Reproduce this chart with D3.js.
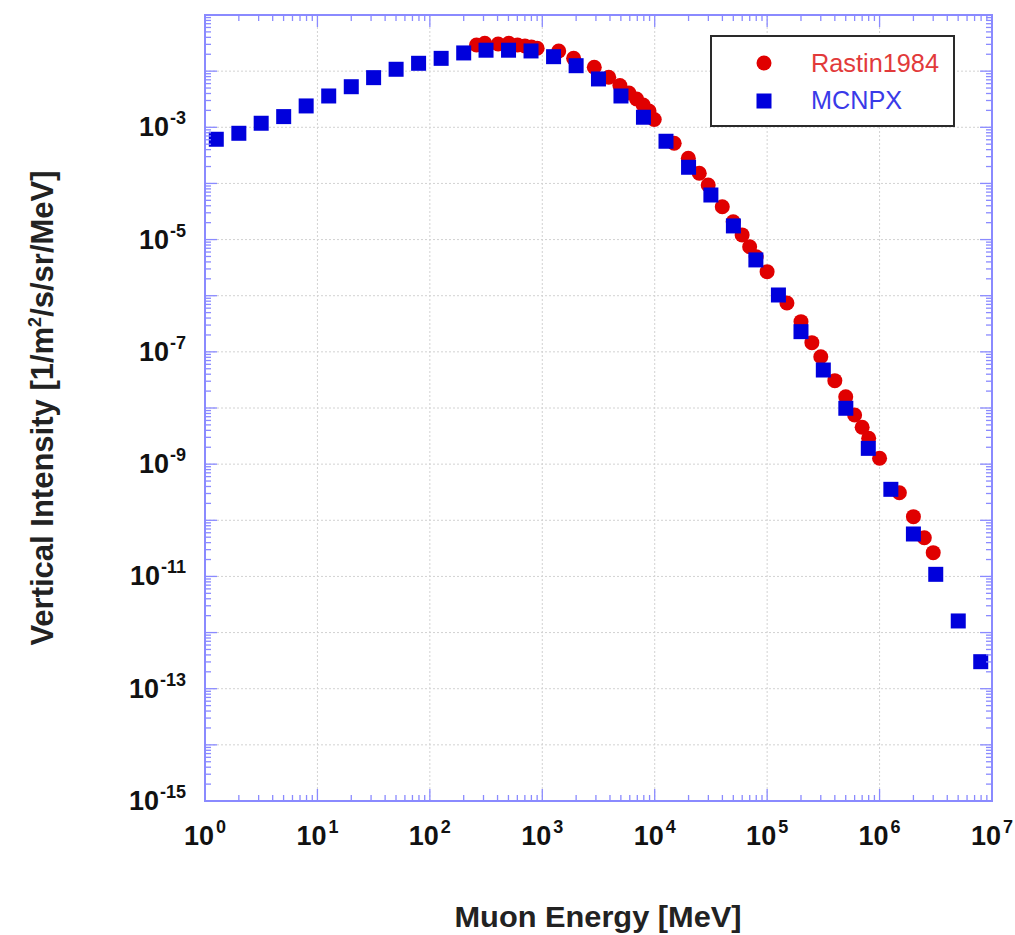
<!DOCTYPE html>
<html>
<head>
<meta charset="utf-8">
<script src="https://cdn.jsdelivr.net/npm/d3@7"></script>
<style>
  html, body { margin: 0; padding: 0; background: #fff; }
  svg { display: block; font-family: "Liberation Sans", Arial, sans-serif; }
</style>
</head>
<body>
<svg id="chart" width="1015" height="935"></svg>
<script>
// ---------------- data ----------------
const rastinEnergy = [260, 308, 405, 504, 602, 701, 800, 900, 1400, 1900, 2900, 3900, 4900, 5900, 6900, 7900, 8900, 9900,
  14900, 19900, 24900, 29900, 39900, 49900, 59900, 69900, 79900, 99900,
  150000, 200000, 250000, 300000, 400000, 500000, 600000, 700000, 800000, 1000000,
  1500000, 2000000, 2500000, 3000000];
const rastinIntensity = [2.92e-2, 3.13e-2, 3.05e-2, 3.13e-2, 2.92e-2, 2.81e-2, 2.70e-2, 2.56e-2, 2.29e-2, 1.69e-2,
  1.17e-2, 7.78e-3, 5.56e-3, 4.08e-3, 3.19e-3, 2.50e-3, 1.95e-3, 1.38e-3,
  5.19e-4, 2.81e-4, 1.52e-4, 9.40e-5, 3.85e-5, 2.08e-5, 1.21e-5, 7.46e-6, 4.95e-6, 2.68e-6,
  7.43e-7, 3.45e-7, 1.46e-7, 8.20e-8, 3.07e-8, 1.59e-8, 7.52e-9, 4.54e-9, 2.89e-9, 1.27e-9,
  3.10e-10, 1.16e-10, 4.90e-11, 2.65e-11];

const mcnpxEnergy = [1.26, 2.0, 3.16, 5.01, 7.94, 12.6, 20.0, 31.6, 50.1, 79.4,
  126, 200, 316, 501, 794, 1260, 2000, 3160, 5010, 7940,
  12600, 20000, 31600, 50100, 79400, 126000, 200000, 316000, 501000, 794000,
  1260000, 2000000, 3160000, 5010000, 7940000];
const mcnpxIntensity = [6.12e-4, 7.82e-4, 1.18e-3, 1.55e-3, 2.40e-3, 3.61e-3, 5.28e-3, 7.66e-3, 1.08e-2, 1.38e-2,
  1.69e-2, 2.11e-2, 2.36e-2, 2.36e-2, 2.29e-2, 1.81e-2, 1.25e-2, 7.26e-3, 3.61e-3, 1.51e-3,
  5.64e-4, 1.94e-4, 6.22e-5, 1.75e-5, 4.34e-6, 1.03e-6, 2.29e-7, 4.75e-8, 9.89e-9, 1.91e-9,
  3.56e-10, 5.70e-11, 1.09e-11, 1.61e-12, 3.03e-13];

const xTickExponents = [0, 1, 2, 3, 4, 5, 6, 7];
const yTickExponents = [-3, -5, -7, -9, -11, -13, -15];
const seriesNames = ["Rastin1984", "MCNPX"];
const xTitle = "Muon Energy [MeV]";

// ---------------- layout ----------------
const svg = d3.select("#chart");
const L = 205, R = 992, T = 15, B = 801;
const x = d3.scaleLog().domain([1, 1e7]).range([L, R]);
const y = d3.scaleLog().domain([1e-15, 1e-1]).range([B, T]);

const axisColor = "#8a8aff";
const red = "#e00000", blue = "#0000dc";

// grid lines at decades
const xDecades = d3.range(0, 8).map(e => Math.pow(10, e));
const yDecades = d3.range(-15, 0).map(e => Math.pow(10, e));
const grid = svg.append("g").attr("stroke", "#d2d2d2").attr("stroke-width", 1).attr("stroke-dasharray", "2,2");
xDecades.slice(1, -1).forEach(v => {
  grid.append("line").attr("x1", x(v)).attr("x2", x(v)).attr("y1", T).attr("y2", B);
});
yDecades.slice(1).forEach(v => {
  grid.append("line").attr("y1", y(v)).attr("y2", y(v)).attr("x1", L).attr("x2", R);
});

// data markers
svg.append("g").selectAll("circle")
  .data(rastinEnergy.map((e, i) => [e, rastinIntensity[i]]))
  .join("circle")
  .attr("cx", d => x(d[0])).attr("cy", d => y(d[1])).attr("r", 7.5).attr("fill", red);

const sq = 15;
svg.append("g").selectAll("rect")
  .data(mcnpxEnergy.map((e, i) => [e, mcnpxIntensity[i]]))
  .join("rect")
  .attr("x", d => x(d[0]) - sq / 2).attr("y", d => y(d[1]) - sq / 2)
  .attr("width", sq).attr("height", sq).attr("fill", blue);

// frame and ticks
const ax = svg.append("g").attr("stroke", axisColor).attr("fill", "none");
ax.append("rect").attr("x", L).attr("y", T).attr("width", R - L).attr("height", B - T).attr("stroke-width", 2);
const tk = svg.append("g").attr("stroke", axisColor).attr("stroke-width", 1.3);
const xTicks = [];
d3.range(0, 7).forEach(e => { for (let m = 1; m <= 9; m++) xTicks.push({ v: m * Math.pow(10, e), major: m === 1 }); });
xTicks.push({ v: 1e7, major: true });
xTicks.forEach(t => {
  const len = t.major ? 12 : 6;
  tk.append("line").attr("x1", x(t.v)).attr("x2", x(t.v)).attr("y1", B).attr("y2", B - len);
  tk.append("line").attr("x1", x(t.v)).attr("x2", x(t.v)).attr("y1", T).attr("y2", T + len);
});
const yTicks = [];
d3.range(-15, -1).forEach(e => { for (let m = 1; m <= 9; m++) yTicks.push({ v: m * Math.pow(10, e), major: m === 1 }); });
yTicks.push({ v: 1e-1, major: true });
yTicks.forEach(t => {
  const len = t.major ? 12 : 6;
  tk.append("line").attr("y1", y(t.v)).attr("y2", y(t.v)).attr("x1", L).attr("x2", L + len);
  tk.append("line").attr("y1", y(t.v)).attr("y2", y(t.v)).attr("x1", R).attr("x2", R - len);
});

// tick labels
const lab = svg.append("g").attr("fill", "#111").attr("font-weight", "bold");
xTickExponents.forEach(e => {
  const t = lab.append("text").attr("x", x(Math.pow(10, e))).attr("y", 845)
    .attr("text-anchor", "middle").attr("font-size", 27);
  t.append("tspan").text("10");
  t.append("tspan").attr("font-size", 18).attr("dx", 2).attr("dy", -12).text(e);
});
yTickExponents.forEach(e => {
  const t = lab.append("text").attr("x", 186).attr("y", y(Math.pow(10, e)) + 9)
    .attr("text-anchor", "end").attr("font-size", 27);
  t.append("tspan").text("10");
  t.append("tspan").attr("font-size", 18).attr("dx", 1).attr("dy", -12).text(e);
});

// axis titles
svg.append("text").attr("x", 598).attr("y", 927).attr("text-anchor", "middle")
  .attr("font-size", 30).attr("font-weight", "bold").attr("fill", "#222")
  .attr("textLength", 287).attr("lengthAdjust", "spacingAndGlyphs").text(xTitle);

const yt = svg.append("text").attr("transform", `translate(53, ${(T + B) / 2}) rotate(-90)`)
  .attr("text-anchor", "middle").attr("font-size", 31).attr("font-weight", "bold").attr("fill", "#222");
yt.append("tspan").text("Vertical Intensity [1/m");
yt.append("tspan").attr("font-size", 18).attr("dy", -12).text("2");
yt.append("tspan").attr("dy", 12).text("/s/sr/MeV]");

// legend
const lg = svg.append("g");
lg.append("rect").attr("x", 711).attr("y", 36).attr("width", 243).attr("height", 90)
  .attr("fill", "#fff").attr("stroke", "#2a2a2a").attr("stroke-width", 2);
lg.append("circle").attr("cx", 764).attr("cy", 63).attr("r", 7.5).attr("fill", red);
lg.append("rect").attr("x", 764 - sq / 2).attr("y", 101 - sq / 2).attr("width", sq).attr("height", sq).attr("fill", blue);
lg.append("text").attr("x", 811).attr("y", 72).attr("font-size", 25).attr("fill", "#e23a3a")
  .attr("textLength", 128).attr("lengthAdjust", "spacingAndGlyphs").text(seriesNames[0]);
lg.append("text").attr("x", 811).attr("y", 109).attr("font-size", 25).attr("fill", "#3a3ae8")
  .attr("textLength", 91).attr("lengthAdjust", "spacingAndGlyphs").text(seriesNames[1]);
</script>
</body>
</html>
